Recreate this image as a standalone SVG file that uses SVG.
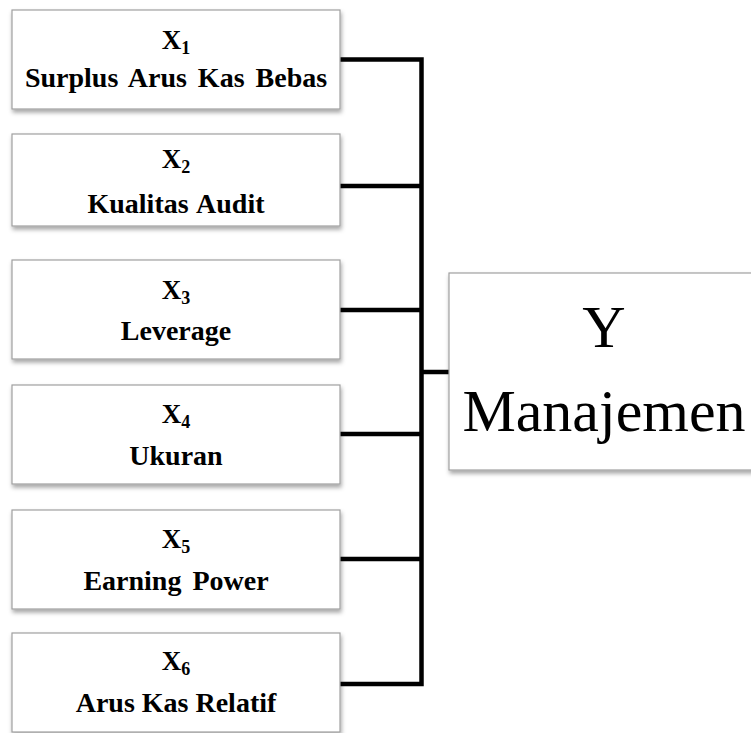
<svg xmlns="http://www.w3.org/2000/svg" width="751" height="733" viewBox="0 0 751 733">
<defs>
<filter id="sh" x="-10%" y="-10%" width="130%" height="140%">
<feDropShadow dx="1" dy="3" stdDeviation="2" flood-color="#000" flood-opacity="0.35"/>
</filter>
</defs>
<style>
.box{fill:#fff;stroke:#a0a0a0;stroke-width:1.2;filter:url(#sh)}
.t{font-family:"Liberation Serif","Times New Roman",serif;font-weight:bold;font-size:28px;fill:#000;text-anchor:middle}
.x{font-size:27px}
.sub{font-size:18px}
.y{font-family:"Liberation Serif","Times New Roman",serif;font-size:60px;fill:#000;text-anchor:middle}
.c{fill:none;stroke:#000;stroke-width:4.5;stroke-linejoin:miter;stroke-linecap:butt}
</style>
<rect width="751" height="733" fill="#fff"/>
<g id="connectors">
<path class="c" d="M340,59.5 H421.5 V684 H340"/>
<path class="c" d="M340,186 H421.5"/>
<path class="c" d="M340,310 H421.5"/>
<path class="c" d="M340,434 H421.5"/>
<path class="c" d="M340,559 H421.5"/>
<path class="c" d="M421.5,372 H449"/>
</g>
<g id="x1">
<rect class="box" x="12" y="10" width="328" height="99"/>
<text class="t x" x="176" y="49">X<tspan class="sub" dy="5">1</tspan></text>
<text class="t" x="176" y="87" word-spacing="4">Surplus Arus Kas Bebas</text>
</g>
<g id="x2">
<rect class="box" x="12" y="134" width="328" height="92"/>
<text class="t x" x="176" y="168">X<tspan class="sub" dy="5">2</tspan></text>
<text class="t" x="176" y="213" word-spacing="2">Kualitas Audit</text>
</g>
<g id="x3">
<rect class="box" x="12" y="260" width="328" height="99"/>
<text class="t x" x="176" y="299">X<tspan class="sub" dy="5">3</tspan></text>
<text class="t" x="176" y="340">Leverage</text>
</g>
<g id="x4">
<rect class="box" x="12" y="385" width="328" height="99"/>
<text class="t x" x="176" y="423">X<tspan class="sub" dy="5">4</tspan></text>
<text class="t" x="176" y="465">Ukuran</text>
</g>
<g id="x5">
<rect class="box" x="12" y="510" width="328" height="99"/>
<text class="t x" x="176" y="548">X<tspan class="sub" dy="5">5</tspan></text>
<text class="t" x="176" y="590" word-spacing="4">Earning Power</text>
</g>
<g id="x6">
<rect class="box" x="12" y="633" width="328" height="99"/>
<text class="t x" x="176" y="670">X<tspan class="sub" dy="5">6</tspan></text>
<text class="t" x="176" y="712">Arus Kas Relatif</text>
</g>
<g id="y">
<rect class="box" x="449" y="273" width="320" height="197"/>
<text class="y" x="604" y="347">Y</text>
<text class="y" x="604" y="431">Manajemen</text>
</g>
</svg>
